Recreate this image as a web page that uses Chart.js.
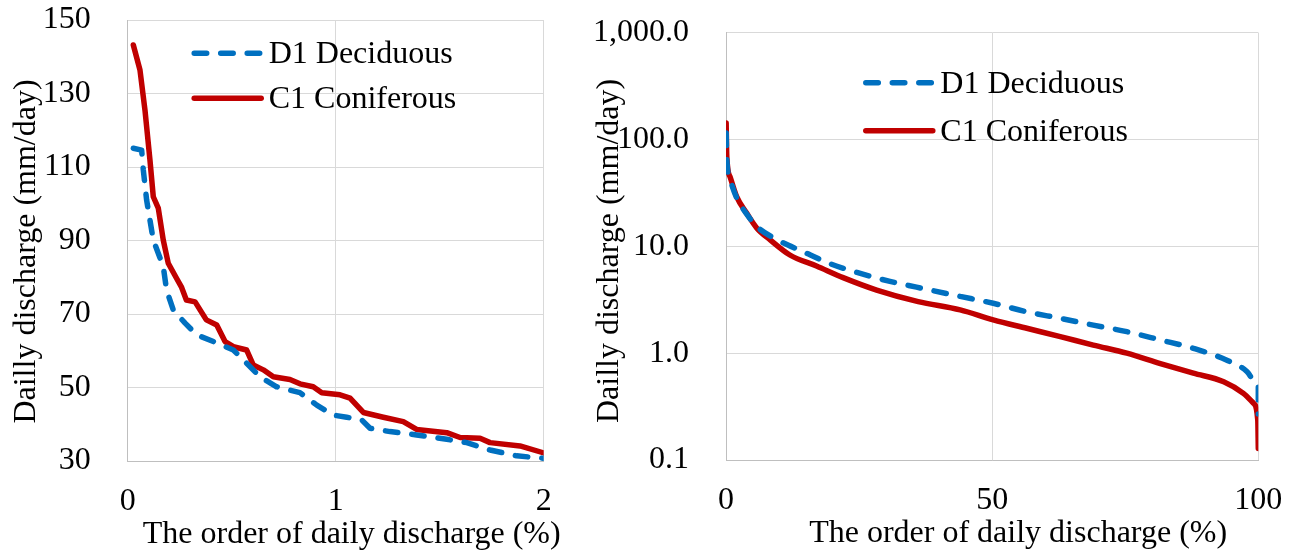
<!DOCTYPE html>
<html>
<head>
<meta charset="utf-8">
<script src="https://cdn.jsdelivr.net/npm/chart.js@4.4.1/dist/chart.umd.min.js"></script>
<style>
  html, body { margin: 0; padding: 0; background: #fff; }
  #wrap { position: relative; width: 1302px; height: 557px; }
  #left-box { position: absolute; left: 0; top: 0; width: 580px; height: 557px; }
  #right-box { position: absolute; left: 590px; top: 0; width: 712px; height: 557px; }
</style>
</head>
<body>
<div id="wrap">
  <div id="left-box"><canvas id="left-chart"></canvas></div>
  <div id="right-box"><canvas id="right-chart"></canvas></div>
</div>
<script>
// series names and axis titles
const seriesNames = ["D1 Deciduous", "C1 Coniferous"];
const xTitle = "The order of daily discharge (%)";
const yTitle = "Dailly discharge (mm/day)";

// left panel, first 2 % of the duration curve
const leftX_D1 = [0.027, 0.067, 0.075, 0.091, 0.123, 0.171, 0.187, 0.219, 0.276, 0.332, 0.412, 0.508, 0.572, 0.636, 0.716, 0.828, 0.909, 0.988, 1.053, 1.125, 1.165, 1.261, 1.389, 1.534, 1.63, 1.742, 1.87, 2.006];
const leftY_D1 = [115.1, 114.6, 109.2, 101.0, 90.1, 82.9, 76.5, 71.1, 67.5, 64.3, 62.5, 60.2, 56.6, 52.9, 50.2, 48.6, 45.2, 42.5, 41.9, 41.2, 38.9, 38.0, 37.1, 35.9, 35.0, 33.0, 31.4, 30.7];
const leftX_C1 = [0.027, 0.059, 0.083, 0.107, 0.123, 0.147, 0.171, 0.195, 0.234, 0.258, 0.282, 0.324, 0.378, 0.428, 0.468, 0.508, 0.572, 0.604, 0.652, 0.7, 0.78, 0.828, 0.892, 0.933, 1.021, 1.069, 1.133, 1.229, 1.325, 1.389, 1.534, 1.598, 1.694, 1.742, 1.886, 2.006];
const leftY_C1 = [143.2, 136.4, 125.5, 111.9, 101.9, 98.8, 90.1, 83.8, 79.8, 77.4, 73.8, 73.3, 68.4, 67.0, 62.5, 61.1, 60.2, 56.1, 54.8, 52.9, 52.2, 51.0, 50.2, 48.6, 48.0, 47.1, 43.2, 41.9, 40.7, 38.6, 37.7, 36.4, 36.2, 35.0, 34.1, 32.1];

// right panel, whole curve on a log axis
const rightX_D1 = [0.03, 0.15, 0.75, 2.0, 3.9, 5.8, 9.5, 14.5, 19.5, 24.6, 30.8, 35.8, 44.0, 50.2, 56.5, 62.8, 69.0, 75.3, 81.6, 87.8, 94.1, 97.9, 100, 100];
const rightY_D1 = [115, 66, 43, 28.5, 20, 15.3, 11.6, 8.9, 6.9, 5.7, 4.7, 4.15, 3.4, 2.93, 2.44, 2.12, 1.83, 1.59, 1.33, 1.11, 0.86, 0.67, 0.49, 0.27];
const rightX_C1 = [0.03, 0.15, 0.75, 2.0, 3.9, 5.8, 8.3, 12.0, 17.0, 22.0, 28.3, 36.1, 44.0, 50.2, 56.5, 62.8, 69.0, 75.3, 81.6, 87.8, 93.5, 97.2, 99.1, 99.9, 100];
const rightY_C1 = [143, 69, 44.9, 29.2, 20.4, 14.8, 11.5, 8.3, 6.55, 5.1, 3.9, 3.04, 2.54, 2.05, 1.71, 1.43, 1.19, 1.0, 0.8, 0.65, 0.54, 0.42, 0.34, 0.237, 0.128];

// tick values
const leftXTicks = [0, 1, 2];
const leftYTicks = [30, 50, 70, 90, 110, 130, 150];
const rightXTicks = [0, 50, 100];
const rightYTicks = [0.1, 1, 10, 100, 1000];

const fontFamily = "'Liberation Serif', 'Times New Roman', serif";
const blue = "#0070C0";
const red = "#C00000";
const gridColor = "#d9d9d9";

function toPoints(xs, ys) {
  return xs.map((x, i) => ({ x: x, y: ys[i] }));
}

// legend inside the plot and the axis titles, drawn by hand
const labelsPlugin = {
  id: "labels",
  afterDraw(chart, args, opts) {
    let ctx = chart.ctx;
    let area = chart.chartArea;
    ctx.save();
    ctx.font = "32px " + fontFamily;
    ctx.fillStyle = "#000";
    chart.data.datasets.forEach((ds, i) => {
      let y = opts.legendY[i];
      ctx.beginPath();
      ctx.strokeStyle = ds.borderColor;
      ctx.lineWidth = ds.borderWidth;
      ctx.lineCap = "round";
      ctx.setLineDash(ds.borderDash || []);
      ctx.moveTo(opts.legendX + 2.5, y);
      ctx.lineTo(opts.legendX + 69.5, y);
      ctx.stroke();
      ctx.setLineDash([]);
      ctx.textAlign = "left";
      ctx.textBaseline = "alphabetic";
      ctx.fillText(ds.label, opts.legendX + 77, y + 10);
    });
    ctx.textAlign = "center";
    ctx.textBaseline = "alphabetic";
    ctx.fillText(xTitle, (area.left + area.right) / 2 + opts.xTitleShift, opts.xTitleBaseline);
    ctx.translate(opts.yTitleBaseline, (area.top + area.bottom) / 2 + opts.yTitleShift);
    ctx.rotate(-Math.PI / 2);
    ctx.fillText(yTitle, 0, 0);
    ctx.restore();
  },
};

function makeDatasets(d1, c1, smooth) {
  let mode = smooth ? "monotone" : "default";
  return [
    {
      label: seriesNames[0],
      data: d1,
      borderColor: blue,
      borderWidth: 5.5,
      borderDash: [12.5, 14],
      borderCapStyle: "round",
      borderJoinStyle: "round",
      pointRadius: 0,
      cubicInterpolationMode: mode,
      tension: 0,
    },
    {
      label: seriesNames[1],
      data: c1,
      borderColor: red,
      borderWidth: 5.5,
      borderCapStyle: "round",
      borderJoinStyle: "round",
      pointRadius: 0,
      cubicInterpolationMode: mode,
      tension: 0,
    },
  ];
}

function tickFont() {
  return { family: fontFamily, size: 32 };
}

// tick marks are hidden; their length only sets the gap to the labels
function gridOpts(gap) {
  return { color: gridColor, drawTicks: true, tickLength: gap, tickColor: "rgba(0,0,0,0)" };
}

let leftChart = new Chart("left-chart", {
  type: "line",
  data: {
    datasets: makeDatasets(toPoints(leftX_D1, leftY_D1), toPoints(leftX_C1, leftY_C1), false),
  },
  options: {
    responsive: true,
    maintainAspectRatio: false,
    animation: false,
    layout: { padding: { top: 20, right: 36.3, left: 0, bottom: 0 } },
    plugins: {
      legend: { display: false },
      tooltip: { enabled: false },
      labels: {
        legendX: 191.7,
        legendY: [53.3, 98.3],
        xTitleShift: 16,
        xTitleBaseline: 543,
        yTitleBaseline: 35,
        yTitleShift: 11,
      },
    },
    scales: {
      x: {
        type: "linear",
        min: 0,
        max: 2,
        afterBuildTicks: (scale) => {
          scale.ticks = leftXTicks.map((v) => ({ value: v }));
        },
        afterFit: (scale) => {
          scale.height = 96;
        },
        ticks: { color: "#000", font: tickFont(), padding: 0, maxRotation: 0 },
        grid: gridOpts(21),
        border: { color: "#bfbfbf" },
      },
      y: {
        type: "linear",
        min: 30,
        max: 150,
        afterBuildTicks: (scale) => {
          scale.ticks = leftYTicks.map((v) => ({ value: v }));
        },
        afterFit: (scale) => {
          scale.width = 127.7;
        },
        ticks: { color: "#000", font: tickFont(), padding: 0 },
        grid: gridOpts(37),
        border: { color: "#bfbfbf" },
      },
    },
  },
  plugins: [labelsPlugin],
});

let rightChart = new Chart("right-chart", {
  type: "line",
  data: {
    datasets: makeDatasets(toPoints(rightX_D1, rightY_D1), toPoints(rightX_C1, rightY_C1), true),
  },
  options: {
    responsive: true,
    maintainAspectRatio: false,
    animation: false,
    layout: { padding: { top: 32.7, right: 43.7, left: 0, bottom: 0 } },
    plugins: {
      legend: { display: false },
      tooltip: { enabled: false },
      labels: {
        legendX: 273.3,
        legendY: [82.7, 130.7],
        xTitleShift: 26,
        xTitleBaseline: 542,
        yTitleBaseline: 27.5,
        yTitleShift: 4.6,
      },
    },
    scales: {
      x: {
        type: "linear",
        min: 0,
        max: 100,
        afterBuildTicks: (scale) => {
          scale.ticks = rightXTicks.map((v) => ({ value: v }));
        },
        afterFit: (scale) => {
          scale.height = 97;
        },
        ticks: { color: "#000", font: tickFont(), padding: 0, maxRotation: 0 },
        grid: gridOpts(21),
        border: { color: "#bfbfbf" },
      },
      y: {
        type: "logarithmic",
        min: 0.1,
        max: 1000,
        afterBuildTicks: (scale) => {
          scale.ticks = rightYTicks.map((v) => ({ value: v }));
        },
        afterFit: (scale) => {
          scale.width = 136;
        },
        ticks: {
          color: "#000",
          font: tickFont(),
          padding: 0,
          callback: (v) =>
            Number(v).toLocaleString("en-US", {
              minimumFractionDigits: 1,
              maximumFractionDigits: 1,
            }),
        },
        grid: gridOpts(37),
        border: { color: "#bfbfbf" },
      },
    },
  },
  plugins: [labelsPlugin],
});
</script>
</body>
</html>
